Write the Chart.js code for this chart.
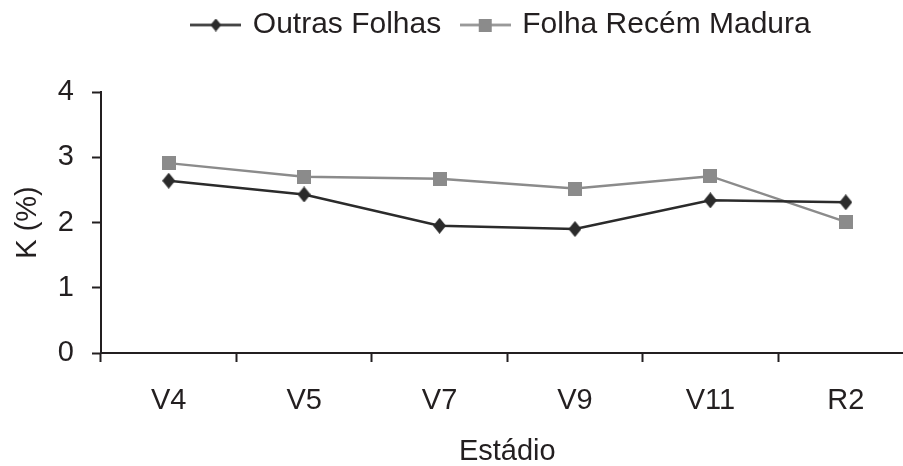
<!DOCTYPE html>
<html>
<head>
<meta charset="utf-8">
<script src="https://cdn.jsdelivr.net/npm/chart.js@4/dist/chart.umd.min.js"></script>
<style>
  html, body { margin: 0; padding: 0; overflow: hidden; background: #ffffff; }
  canvas { display: block; }
</style>
</head>
<body>
<canvas id="chart" width="903" height="466"></canvas>
<script>
// Potassium content (K, %) by growth stage
const stages = ['V4', 'V5', 'V7', 'V9', 'V11', 'R2'];
const outrasFolhas = [2.64, 2.43, 1.95, 1.90, 2.34, 2.31];
const folhaRecemMadura = [2.91, 2.70, 2.67, 2.52, 2.71, 2.01];
const yTicks = [0, 1, 2, 3, 4];
const seriesNames = ['Outras Folhas', 'Folha Recém Madura'];
const xTitle = 'Estádio';
const yTitle = 'K (%)';

const DARK = '#2b2b2b';
const GRAY = '#8b8b8b';
const INK = '#231f20';
const FONT = '"Liberation Sans", Arial, Helvetica, sans-serif';

// marker sprites
function diamond(w, h, color) {
  const c = document.createElement('canvas');
  c.width = w; c.height = h;
  const g = c.getContext('2d');
  g.fillStyle = color;
  g.beginPath();
  g.moveTo(w / 2, 0); g.lineTo(w, h / 2); g.lineTo(w / 2, h); g.lineTo(0, h / 2);
  g.closePath();
  g.fill();
  return c;
}
function square(s, color) {
  const c = document.createElement('canvas');
  c.width = s; c.height = s;
  const g = c.getContext('2d');
  g.fillStyle = color;
  g.fillRect(0, 0, s, s);
  return c;
}
// legend swatch: short line segment with the marker in the middle
function swatch(marker, lineColor, width) {
  const h = Math.max(marker.height, 4);
  const c = document.createElement('canvas');
  c.width = width; c.height = h;
  const g = c.getContext('2d');
  g.strokeStyle = lineColor;
  g.lineWidth = 2.5;
  g.beginPath();
  g.moveTo(0, h / 2); g.lineTo(width, h / 2);
  g.stroke();
  g.drawImage(marker, Math.round((width - marker.width) / 2), Math.round((h - marker.height) / 2));
  return c;
}

const darkMarker = diamond(13, 16, DARK);
const grayMarker = square(14, GRAY);
const legendSwatches = [
  swatch(diamond(11, 13, DARK), DARK, 51),
  swatch(square(13, GRAY), GRAY, 51)
];

// the top padding leaves room above the plot; the legend row sits up inside it,
// and the x axis is carried a little past the right edge of the canvas
const LEGEND_LIFT = 42;
const LEGEND_SHIFT = 5;
const AXIS_OVERRUN = 20;
const layoutTweaks = {
  id: 'layoutTweaks',
  afterLayout(chart) {
    const l = chart.legend;
    if (l) {
      l.top -= LEGEND_LIFT; l.bottom -= LEGEND_LIFT;
      l.left += LEGEND_SHIFT; l.right += LEGEND_SHIFT;
    }
    const x = chart.scales.x;
    x.right += AXIS_OVERRUN;
    x.width += AXIS_OVERRUN;
    x.configure();
    chart.chartArea.right += AXIS_OVERRUN;
    chart.chartArea.width += AXIS_OVERRUN;
  }
};

new Chart(document.getElementById('chart'), {
  type: 'line',
  data: {
    labels: stages,
    datasets: [
      {
        label: seriesNames[0],
        data: outrasFolhas,
        borderColor: DARK,
        backgroundColor: DARK,
        borderWidth: 2.5,
        pointStyle: darkMarker,
        pointRadius: 7,
        tension: 0
      },
      {
        label: seriesNames[1],
        data: folhaRecemMadura,
        borderColor: GRAY,
        backgroundColor: GRAY,
        borderWidth: 2.5,
        pointStyle: grayMarker,
        pointRadius: 7,
        tension: 0
      }
    ]
  },
  options: {
    responsive: false,
    maintainAspectRatio: false,
    devicePixelRatio: 1,
    animation: false,
    events: [],
    layout: { padding: { left: 0, right: 0, top: 30, bottom: 0 } },
    plugins: {
      tooltip: { enabled: false },
      legend: {
        position: 'top',
        fullSize: false,
        labels: {
          usePointStyle: true,
          pointStyleWidth: 44,
          padding: 22,
          color: INK,
          font: { family: FONT, size: 30 },
          generateLabels(chart) {
            const items = Chart.defaults.plugins.legend.labels.generateLabels(chart);
            items.forEach((it, i) => { it.pointStyle = legendSwatches[i]; it.fontColor = INK; });
            return items;
          }
        }
      }
    },
    scales: {
      x: {
        type: 'category',
        offset: true,
        grid: {
          offset: true,
          display: true,
          drawOnChartArea: false,
          drawTicks: true,
          tickLength: 9,
          tickWidth: 2,
          tickColor: INK
        },
        border: { display: true, color: INK, width: 2 },
        ticks: {
          color: INK,
          padding: 22,
          maxRotation: 0,
          autoSkip: false,
          font: { family: FONT, size: 29 }
        },
        title: {
          display: true,
          text: xTitle,
          color: INK,
          font: { family: FONT, size: 29, lineHeight: 1.0 },
          padding: { top: 0, bottom: 0 }
        },
        afterFit(scale) { scale.height = 113; }
      },
      y: {
        min: yTicks[0],
        max: yTicks[yTicks.length - 1],
        afterBuildTicks(scale) { scale.ticks = yTicks.map(v => ({ value: v })); },
        grid: {
          display: true,
          drawOnChartArea: false,
          drawTicks: true,
          tickLength: 9,
          tickWidth: 2,
          tickColor: INK
        },
        border: { display: true, color: INK, width: 2 },
        ticks: {
          color: INK,
          padding: 18,
          font: { family: FONT, size: 29 }
        },
        title: {
          display: true,
          text: yTitle,
          color: INK,
          font: { family: FONT, size: 29 },
          padding: { top: 11, bottom: 0 }
        },
        afterFit(scale) { scale.width = 101; }
      }
    }
  },
  plugins: [layoutTweaks]
});
</script>
</body>
</html>
